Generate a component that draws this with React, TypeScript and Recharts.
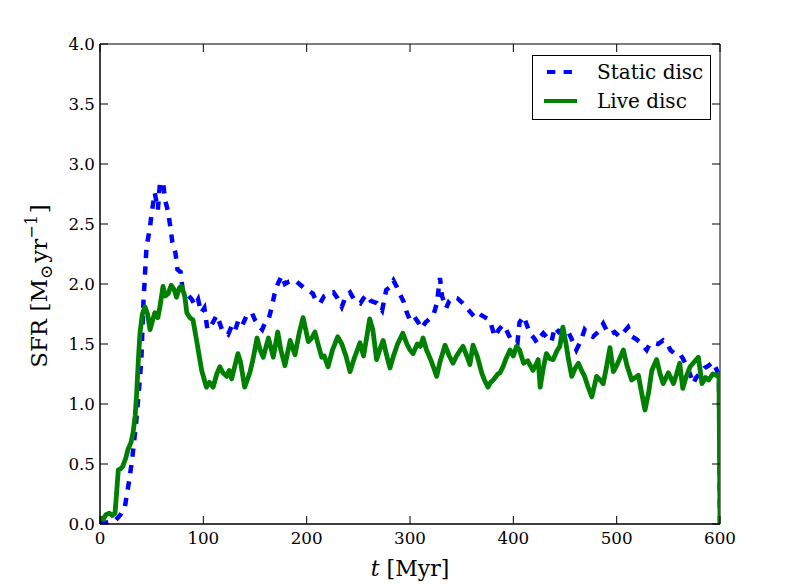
import React from 'react';
import { LineChart, Line, XAxis, YAxis, Legend, Label, ReferenceArea } from 'recharts';

// star formation rate vs time
const staticT = [
  0, 5, 10, 15, 20, 24, 28, 31, 35, 38, 40, 42, 45, 48, 50, 53, 56, 58, 61, 63, 66, 68, 70, 73, 75, 78, 80, 84,
  89, 92, 95, 98, 101, 104, 108, 113, 116, 118, 121, 124, 128, 131, 134, 138, 142, 147, 150, 153, 157, 160, 163,
  166, 169, 172, 176, 179, 183, 189, 193, 197, 201, 206, 209, 213, 217, 222, 226, 230, 234, 238, 242, 246, 252,
  255, 258, 262, 268, 273, 277, 280, 284, 287, 290, 294, 297, 300, 304, 308, 311, 315, 319, 323, 326, 329, 331,
  335, 338, 342, 346, 351, 355, 358, 362, 366, 369, 373, 377, 380, 382, 386, 390, 393, 397, 400, 404, 406, 410,
  413, 416, 420, 423, 426, 429, 433, 437, 440, 444, 448, 452, 456, 461, 465, 469, 473, 477, 482, 487, 490, 494,
  498, 503, 507, 511, 515, 519, 523, 526, 529, 532, 535, 540, 545, 549, 552, 556, 561, 564, 568, 571, 574, 577,
  581, 585, 589, 593, 596, 598, 599, 600,
];
const staticSfr = [
  0.01, 0.01, 0.02, 0.03, 0.08, 0.14, 0.35, 0.53, 0.85, 1.15, 1.37, 1.84, 2.31, 2.45, 2.59, 2.76, 2.62, 2.84, 2.85,
  2.7, 2.6, 2.48, 2.35, 2.26, 2.12, 2.1, 1.95, 1.92, 1.87, 1.82, 1.87, 1.76, 1.8, 1.62, 1.66, 1.74, 1.67, 1.62, 1.6,
  1.58, 1.66, 1.62, 1.7, 1.66, 1.74, 1.76, 1.7, 1.66, 1.62, 1.68, 1.7, 1.8, 1.92, 2.0, 2.07, 2.0, 2.02, 2.03, 2.0,
  1.97, 1.95, 1.92, 1.86, 1.84, 1.9, 1.92, 1.93, 1.88, 1.81, 1.9, 1.93, 1.87, 1.84, 1.88, 1.91, 1.86, 1.84, 1.78,
  1.95, 1.97, 2.03, 1.98, 1.92, 1.85, 1.76, 1.7, 1.73, 1.68, 1.63, 1.68, 1.71, 1.75, 1.84, 2.05, 1.9, 1.8, 1.86,
  1.89, 1.88, 1.84, 1.8, 1.77, 1.73, 1.76, 1.74, 1.72, 1.7, 1.62, 1.56, 1.62, 1.66, 1.62, 1.55, 1.53, 1.51, 1.68,
  1.73, 1.66, 1.59, 1.55, 1.51, 1.56, 1.59, 1.55, 1.52, 1.64, 1.6, 1.62, 1.62, 1.55, 1.45, 1.52, 1.62, 1.58, 1.56,
  1.6, 1.67, 1.62, 1.58, 1.6, 1.56, 1.6, 1.64, 1.56, 1.54, 1.51, 1.48, 1.45, 1.5, 1.51, 1.5, 1.53, 1.5, 1.45, 1.42,
  1.42, 1.38, 1.31, 1.25, 1.17, 1.22, 1.26, 1.3, 1.32, 1.35, 1.3, 1.26, 1.2, 0,
];

const liveT = [
  0, 3, 6, 9, 12, 14.5, 16, 17.7, 20, 22, 25, 27, 30, 32, 34, 35.5, 37, 38.7, 41, 43.5, 46, 48.4, 51, 53, 56, 58, 61,
  63, 66, 69, 72, 74, 77, 79, 82, 84, 87, 90, 93.5, 96, 98.4, 101, 103, 106, 109.5, 113, 116, 119, 122.6, 125, 127.4,
  130, 133.5, 136, 140, 145, 148, 152, 155, 158, 163, 167.7, 172, 175, 179, 184, 188.7, 193, 196.5, 201.6, 205, 208,
  211, 214.5, 217, 220.6, 225, 230, 234, 238, 242, 246, 249, 251.6, 255, 258, 261, 264, 267.7, 271, 274,
  277, 280.6, 284, 288, 293, 297, 300, 303, 307, 310, 312.6, 316, 320, 323, 325.8, 329, 333.9, 338, 341.6, 345, 348,
  351.3, 355, 358, 361, 365, 369.4, 372, 375.5, 378, 380.6, 385, 387, 390, 393, 396.8, 400, 403, 406, 410, 414, 419,
  422, 424, 426, 429, 432, 435, 438.5, 442, 445, 448, 451, 453, 456.5, 460, 463, 466, 469, 472, 476, 480.6, 484, 487,
  490, 493.5, 496.8, 500, 503, 506.5, 510, 514.5, 518, 521, 524, 527.4, 531, 534, 538.7, 542, 545, 550, 555, 558,
  561, 564, 567, 571, 575, 579, 582.6, 586, 589, 593, 596, 598, 599, 600,
];
const liveSfr = [
  0.05, 0.04, 0.08, 0.09, 0.07, 0.09, 0.25, 0.45, 0.46, 0.48, 0.55, 0.62, 0.68, 0.76, 0.9, 1.09, 1.35, 1.59, 1.75,
  1.81, 1.75, 1.62, 1.7, 1.76, 1.72, 1.81, 1.98, 1.9, 1.92, 1.99, 1.95, 1.89, 1.97, 1.98, 1.9, 1.76, 1.72, 1.7, 1.53,
  1.4, 1.28, 1.2, 1.14, 1.18, 1.14, 1.25, 1.31, 1.26, 1.23, 1.28, 1.21, 1.3, 1.42, 1.35, 1.14, 1.26, 1.37, 1.55,
  1.45, 1.39, 1.55, 1.39, 1.6, 1.45, 1.32, 1.53, 1.41, 1.6, 1.72, 1.52, 1.55, 1.6, 1.5, 1.39, 1.4, 1.31, 1.45, 1.56,
  1.5, 1.4, 1.27, 1.38, 1.45, 1.51, 1.4, 1.55, 1.71, 1.62, 1.37, 1.46, 1.53, 1.42, 1.3, 1.4, 1.5, 1.59, 1.5,
  1.45, 1.42, 1.5, 1.48, 1.55, 1.45, 1.37, 1.3, 1.23, 1.35, 1.49, 1.4, 1.34, 1.4, 1.44, 1.48, 1.4, 1.33, 1.49, 1.4,
  1.26, 1.2, 1.14, 1.18, 1.2, 1.25, 1.26, 1.31, 1.38, 1.45, 1.4, 1.48, 1.45, 1.34, 1.36, 1.28, 1.33, 1.37, 1.14, 1.3,
  1.42, 1.38, 1.37, 1.44, 1.48, 1.64, 1.5, 1.39, 1.23, 1.3, 1.34, 1.28, 1.23, 1.15, 1.06, 1.23, 1.2, 1.17, 1.3, 1.47,
  1.27, 1.32, 1.38, 1.45, 1.32, 1.2, 1.22, 1.24, 1.1, 0.95, 1.1, 1.28, 1.37, 1.25, 1.17, 1.26, 1.17, 1.25, 1.34,
  1.13, 1.22, 1.31, 1.35, 1.39, 1.17, 1.22, 1.2, 1.25, 1.24, 1.23, 1.25, 0,
];

const xTicks = [0, 100, 200, 300, 400, 500, 600];
const yTicks = [0, 0.5, 1, 1.5, 2, 2.5, 3, 3.5, 4];

const staticData = staticT.map((t, i) => ({ t, sfr: staticSfr[i] }));
const liveData = liveT.map((t, i) => ({ t, sfr: liveSfr[i] }));

const FONT = '"DejaVu Serif", serif';
const DASH = '8.3 8.3';
const PLOT_TOP = 44;
const PLOT_RIGHT = 720;

// matplotlib classic style: ticks point into the axes, on all four sides
const BottomTick = (props: any) => {
  const { x, y, payload } = props;
  return (
    <g>
      <line x1={x} x2={x} y1={y} y2={y - 8} stroke="#000" />
      <line x1={x} x2={x} y1={PLOT_TOP} y2={PLOT_TOP + 8} stroke="#000" />
      <text x={x} y={y + 20} textAnchor="middle" fontFamily={FONT} fontSize={16.7} fill="#000">
        {payload.value}
      </text>
    </g>
  );
};

const LeftTick = (props: any) => {
  const { x, y, payload } = props;
  return (
    <g>
      <line x1={x} x2={x + 8} y1={y} y2={y} stroke="#000" />
      <line x1={PLOT_RIGHT} x2={PLOT_RIGHT - 8} y1={y} y2={y} stroke="#000" />
      <text x={x - 5} y={y + 6} textAnchor="end" fontFamily={FONT} fontSize={16.7} fill="#000">
        {Number(payload.value).toFixed(1)}
      </text>
    </g>
  );
};

const LegendBox = () => (
  <div
    style={{
      position: 'absolute',
      left: 532,
      top: 55,
      width: 177,
      height: 63,
      border: '1px solid #000',
      background: '#fff',
    }}
  >
    <svg width={177} height={63}>
      <line x1={14} x2={44} y1={16} y2={16} stroke="#0000ff" strokeWidth={4.2} strokeDasharray={DASH} />
      <line x1={11} x2={44} y1={45} y2={45} stroke="#008000" strokeWidth={4.2} />
      <text x={64} y={23} fontFamily={FONT} fontSize={20} fill="#000">Static disc</text>
      <text x={64} y={52} fontFamily={FONT} fontSize={20} fill="#000">Live disc</text>
    </svg>
  </div>
);

export default function App() {
  return (
    <div style={{ position: 'absolute', left: 0, top: 0, width: 800, height: 585, background: '#fff' }}>
      <LineChart width={800} height={585} margin={{ top: 44, right: 80, bottom: 0, left: 0 }}>
        <XAxis
          dataKey="t"
          type="number"
          domain={[0, 600]}
          ticks={xTicks}
          height={61}
          tickSize={0}
          tickMargin={0}
          tick={<BottomTick />}
          axisLine={{ stroke: '#000' }}
          allowDataOverflow
        >
          <Label
            content={(p: any) => {
              const vb = p.viewBox;
              return (
                <text x={vb.x + vb.width / 2} y={vb.y + 52} textAnchor="middle" fontFamily={FONT} fontSize={22} fill="#000">
                  <tspan fontStyle="italic">t</tspan> [Myr]
                </text>
              );
            }}
          />
        </XAxis>
        <YAxis
          type="number"
          domain={[0, 4]}
          ticks={yTicks}
          width={100}
          tickSize={0}
          tickMargin={0}
          tick={<LeftTick />}
          axisLine={{ stroke: '#000' }}
          allowDataOverflow
        >
          <Label
            content={(p: any) => {
              const vb = p.viewBox;
              const cy = vb.y + vb.height / 2 + 2;
              return (
                <text
                  x={47}
                  y={cy}
                  textAnchor="middle"
                  transform={`rotate(-90, 47, ${cy})`}
                  fontFamily={FONT}
                  fontSize={23}
                  fill="#000"
                >
                  SFR [M
                  <tspan fontSize={17} dy={5}>⊙</tspan>
                  <tspan dy={-5} dx={2}>yr</tspan>
                  <tspan fontSize={16} dy={-10}>−1</tspan>
                  <tspan dy={10} dx={2}>]</tspan>
                </text>
              );
            }}
          />
        </YAxis>
        <ReferenceArea x1={0} x2={600} y1={0} y2={4} fill="none" stroke="#000" strokeWidth={1} />
        <Line
          data={staticData}
          dataKey="sfr"
          name="Static disc"
          type="linear"
          stroke="#0000ff"
          strokeWidth={4.5}
          strokeDasharray={DASH}
          dot={false}
          isAnimationActive={false}
        />
        <Line
          data={liveData}
          dataKey="sfr"
          name="Live disc"
          type="linear"
          stroke="#008000"
          strokeWidth={4.8}
          strokeLinejoin="round"
          dot={false}
          isAnimationActive={false}
        />
        <Legend
          layout="horizontal"
          verticalAlign="middle"
          align="center"
          wrapperStyle={{ left: 0, top: 0, width: 0, height: 0 }}
          content={() => <LegendBox />}
        />
      </LineChart>
    </div>
  );
}
